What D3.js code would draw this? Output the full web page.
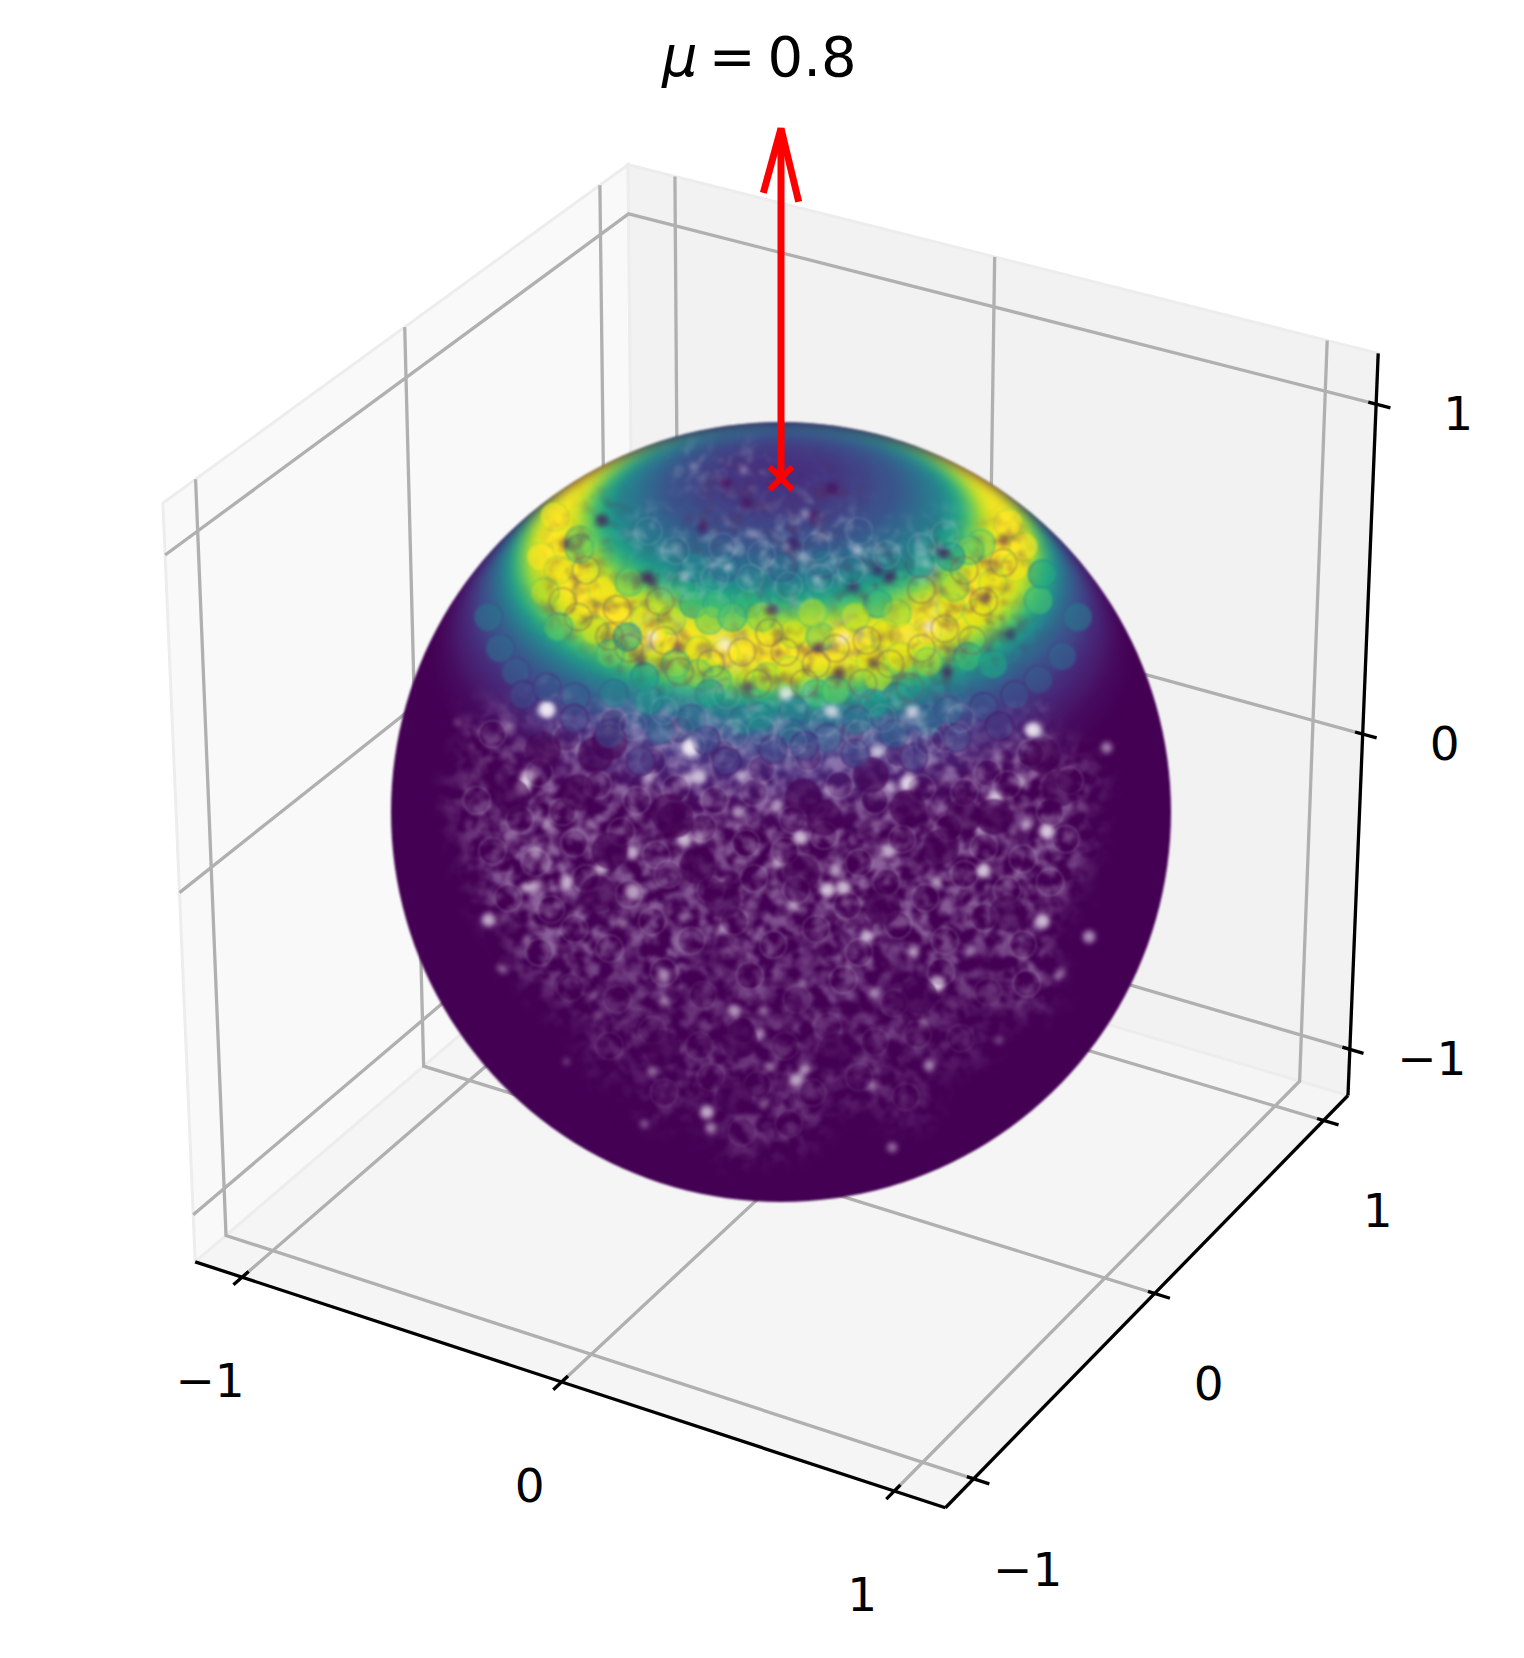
<!DOCTYPE html>
<html lang="en">
<head>
    <meta charset="UTF-8">
    <title>Sphere scatter</title>
    <script src="https://d3js.org/d3.v7.min.js"></script>
    <style>
        body { margin: 0; background: #fff; }
        text { font-family: "DejaVu Sans", sans-serif; fill: #000; }
    </style>
</head>
<body>
    <svg width="1524" height="1658"></svg>
    <script>
        // axes
        const tickValues = [-1, 0, 1];
        const tickLabels = ["−1", "0", "1"];
        const axisLimit = 1.15;
        const muLabel = "0.8";

        // arrow from the top of the sphere, and its barbs
        const arrowShaft = [[0, 0, 1], [0, 0, 2]];
        const arrowBarbs = [[-0.052, 0, 1.807], [0, 0, 2], [0.052, 0, 1.807]];
        const arrowBase = [0, 0, 1];

        // colour (viridis 0..1) of the sphere against polar angle from the +z pole, degrees
        const capAngles = [62, 58, 55, 52, 50, 48, 46, 44, 42, 40, 38, 36, 34, 32, 30, 28, 26, 24, 21, 18, 14, 10, 5];
        const capValues = [0.02, 0.07, 0.12, 0.2, 0.26, 0.34, 0.46, 0.62, 0.82, 0.95, 1, 1, 0.98, 0.88, 0.72, 0.58, 0.48, 0.4, 0.32, 0.25, 0.2, 0.16, 0.14];

        // coloured points in the band: [u, v, viridis value], u,v in sphere radii
        const bandPoints = [
            [-0.58,0.757,1],[-0.615,0.654,1],[-0.571,0.62,0.97],[-0.605,0.564,0.9],[-0.497,0.56,1],[-0.458,0.569,0.98],
            [-0.517,0.697,0.8],[-0.517,0.675,0.78],[-0.389,0.59,0.78],[-0.35,0.496,0.92],[-0.281,0.492,0.88],[-0.33,0.457,1],
            [-0.478,0.466,0.9],[-0.571,0.475,0.75],[-0.438,0.406,0.75],[-0.394,0.449,0.6],[-0.223,0.534,0.65],[-0.164,0.534,0.65],
            [-0.085,0.534,0.65],[-0.183,0.492,0.8],[-0.125,0.5,0.72],[-0.213,0.415,0.95],[-0.144,0.406,1],[-0.213,0.355,0.82],
            [-0.164,0.338,0.78],[-0.036,0.346,0.88],[0.023,0.363,0.95],[0.032,0.457,0.92],[0.101,0.449,0.8],[0.16,0.445,1],
            [0.199,0.423,1],[0.091,0.304,0.7],[0.14,0.312,0.75],[0.248,0.534,0.65],[0.297,0.509,0.85],[0.268,0.457,0.95],
            [0.376,0.466,1],[0.317,0.449,1],[0.435,0.526,0.95],[0.445,0.577,0.85],[0.543,0.586,0.95],[0.601,0.628,0.98],
            [0.621,0.68,1],[0.582,0.74,1],[0.513,0.688,0.8],[0.484,0.671,0.78],[0.503,0.509,0.95],[0.376,0.385,0.85],
            [0.479,0.398,0.68],[0.543,0.38,0.6],[0.307,0.398,0.95],[0.229,0.389,0.95],[0.248,0.346,0.9],[0.66,0.543,0.7],
            [0.67,0.61,0.6],[-0.095,0.235,0.45],[-0.056,0.244,0.5],[0.032,0.261,0.42],[0.238,0.278,0.55],[0.297,0.295,0.55],
            [-0.34,0.286,0.5],[-0.429,0.304,0.42],[-0.35,0.346,0.55],[-0.183,0.304,0.55],[0.194,0.235,0.38],[0.028,0.201,0.35],
            [-0.193,0.184,0.2],[0.376,0.235,0.35],[-0.527,0.295,0.3],[-0.144,0.628,0.38],[-0.223,0.628,0.45],[0.003,0.628,0.35],
            [0.111,0.637,0.38],[0.356,0.637,0.5],[0.435,0.654,0.55],[-0.23,0.24,0.34],[-0.31,0.21,0.32],[0.12,0.19,0.28],[0.29,0.2,0.3],
            [0.43,0.26,0.32],[0.06,0.17,0.22],[-0.44,0.2,0.22],[-0.05,0.5,0.85],[0.08,0.51,0.88],[0.19,0.5,0.9],[-0.27,0.38,0.78],
            [-0.68,0.36,0.3],[-0.72,0.42,0.34],[-0.66,0.3,0.22],[-0.6,0.32,0.26],[0.6,0.3,0.24],[0.66,0.34,0.28],[0.72,0.4,0.32],
            [0.52,0.27,0.24],[0.45,0.19,0.2],[0.34,0.14,0.17],[-0.14,0.13,0.17],[-0.36,0.13,0.17],[-0.53,0.24,0.2],[0.19,0.15,0.2],
            [-0.02,0.16,0.2],[0.56,0.22,0.16],[-0.75,0.5,0.38],[0.76,0.5,0.4]
        ];

        // faint rings of single points across the band and the cap: [u, v, 1 dark | 0 pale]
        const bandRings = [
            [-0.5,0.62,1],[-0.42,0.52,1],[-0.39,0.42,1],[-0.3,0.44,1],[-0.26,0.36,1],[-0.18,0.38,1],[-0.1,0.41,1],[-0.06,0.33,1],[0.01,0.41,1],[0.09,0.38,1],
            [0.14,0.42,1],[0.22,0.44,1],[0.28,0.38,1],[0.36,0.42,1],[0.42,0.47,1],[0.49,0.44,1],[0.52,0.54,1],[0.57,0.64,1],[0.47,0.62,1],[0.36,0.57,1],
            [-0.44,0.45,1],[-0.52,0.5,1],[-0.56,0.54,1],[-0.31,0.54,1],[-0.03,0.46,1],[0.06,0.33,1],[0.21,0.33,1],[0.33,0.32,1],[-0.14,0.3,0],[-0.05,0.21,0],
            [0.03,0.18,0],[0.11,0.23,0],[0.2,0.2,0],[0.26,0.24,0],[-0.3,0.26,0],[-0.23,0.17,0],[-0.12,0.2,0],[0.38,0.18,0],[0.46,0.24,0],[-0.38,0.22,0],
            [-0.25,0.58,0],[-0.17,0.6,0],[-0.08,0.6,0],[0.02,0.58,0],[0.1,0.6,0],[0.18,0.62,0],[0.27,0.66,0],[0.36,0.68,0],[-0.05,0.66,0],[-0.15,0.68,0],
            [-0.27,0.67,0],[-0.34,0.72,0],[0.09,0.68,0],[0.2,0.72,0],[0.42,0.71,0]
        ];

        // sparse spots in the band where the dark purple shows through: [u, v]
        const bandDarkSpots = [
            [-0.345,0.603],[-0.33,0.59],[-0.551,0.688],[-0.458,0.748],[0.185,0.577],[0.248,0.62],[0.523,0.547],[0.572,0.697],
            [-0.026,0.517],[0.096,0.419],[0.238,0.381],[0.425,0.363],[-0.085,0.321],[-0.262,0.423],[0.081,0.757],[0.131,0.83],
            [-0.144,0.842],[0.415,0.663],[0.278,0.603],[0.587,0.457],[-0.09,0.79],[-0.2,0.73],[0.03,0.69],[-0.36,0.39],[0.15,0.36]
        ];

        // pale holes in the cap: [u, v, strength]
        const bandPaleSpots = [
            [-0.6,0.265,1],[0.013,0.304,1],[0.13,0.257,0.9],[0.337,0.257,0.9],[0.641,0.21,0.9],[-0.237,0.167,1],[-0.247,0.603,0.6],
            [-0.134,0.628,0.5],[0.194,0.671,0.6],[0.052,0.654,0.5],[0.091,0.594,0.5],[0.371,0.637,0.5],[-0.144,0.428,0.9],[0.16,0.445,0.8],
            [0.381,0.475,0.8],[0.013,0.68,0.4],[-0.223,0.885,0.4],[-0.095,0.876,0.4],[0.062,0.765,0.5],[-0.075,0.714,0.4],[-0.33,0.45,0.8]
        ];

        // light gaps between the purple points lower down: [u, v, strength]
        const bodyGaps = [
            [-0.6,0.26,1],[-0.65,0.09,0.9],[-0.66,0.064,0.9],[-0.695,0.22,0.4],[-0.83,0.23,0.25],[-0.52,0.16,0.5],[-0.34,0.087,0.7],[-0.23,0.16,1],
            [-0.21,0.09,0.9],[-0.24,0.08,0.7],[-0.1,0.09,0.6],[-0.01,0.018,0.7],[-0.11,0,0.7],[-0.63,-0.105,0.8],[-0.6,-0.14,0.5],[-0.46,-0.144,0.8],
            [-0.38,-0.105,0.7],[-0.49,-0.03,0.5],[-0.6,-0.03,0.5],[-0.8,-0.03,0.25],[-0.38,-0.205,1],[-0.55,-0.18,0.8],[-0.63,-0.19,0.7],[-0.65,-0.195,0.6],
            [-0.75,-0.277,0.8],[-0.25,-0.07,0.9],[-0.21,-0.067,0.7],[-0.01,-0.13,0.7],[-0.25,-0.27,0.5],[-0.15,-0.3,0.5],[-0.405,-0.285,0.5],[-0.33,-0.19,0.4],
            [-0.72,-0.4,0.3],[-0.3,-0.41,0.4],[-0.65,-0.33,0.35],[0.65,0.21,0.9],[0.835,0.165,0.6],[0.55,0.035,0.9],[0.68,-0.05,0.9],[0.63,-0.033,0.6],
            [0.595,-0.05,0.4],[0.325,0.074,1],[0.28,0.064,0.7],[0.245,0.155,0.8],[0.375,0.133,0.5],[0.125,0.056,0.5],[0.52,-0.15,0.9],[0.51,-0.046,0.5],
            [0.275,-0.1,0.8],[0.16,-0.195,0.9],[0.12,-0.2,0.9],[0.14,-0.15,0.7],[0.05,-0.067,0.8],[0.67,-0.28,0.9],[0.79,-0.32,0.7],[0.34,-0.36,0.6],
            [0.22,-0.32,0.7],[0.03,-0.24,0.7],[0.485,-0.355,0.4],[0.4,-0.18,0.5],[0.62,0.077,0.5],[0.56,0.14,0.4],[0.72,-0.41,0.3],[0.4,-0.44,1],
            [-0.3,-0.42,0.7],[-0.3,-0.485,0.5],[-0.12,-0.51,0.7],[-0.045,-0.51,0.5],[0.055,-0.44,0.5],[0.24,-0.465,0.5],[-0.055,-0.57,0.6],[0.04,-0.687,0.8],
            [0.06,-0.66,0.6],[-0.03,-0.655,0.4],[-0.19,-0.77,0.8],[-0.18,-0.81,0.6],[-0.33,-0.665,0.5],[-0.35,-0.8,0.4],[-0.47,-0.52,0.3],[-0.48,-0.47,0.3],
            [-0.71,-0.405,0.3],[0.38,-0.65,0.6],[0.235,-0.7,0.5],[0.285,-0.86,0.5],[0.71,-0.42,0.4],[0.56,-0.585,0.3],[0.365,-0.54,0.4],[-0.045,-0.75,0.4],
            [-0.55,-0.64,0.25]
        ];

        // rings left by single faint points on the lower sphere: [u, v]
        const bodyRings = [
            [-0.74,0.2],[-0.62,0.1],[-0.55,0.19],[-0.43,0.23],[-0.33,0.13],[-0.26,0.21],[-0.15,0.15],[-0.05,0.11],[0.07,0.14],[0.18,0.2],[0.3,0.15],[0.42,0.19],[0.53,0.1],[0.64,0.15],[0.74,0.08],
            [-0.78,0.03],[-0.67,-0.02],[-0.56,0],[-0.47,0.07],[-0.37,0.03],[-0.27,0.06],[-0.17,0.03],[-0.07,0.05],[0.03,-0.02],[0.15,0.07],[0.24,0.03],[0.36,0.06],[0.47,0.05],[0.58,0.07],[0.69,0],
            [-0.74,-0.1],[-0.63,-0.13],[-0.53,-0.08],[-0.41,-0.05],[-0.32,-0.11],[-0.2,-0.04],[-0.09,-0.08],[0.01,-0.1],[0.11,-0.06],[0.2,-0.13],[0.31,-0.07],[0.43,-0.04],[0.52,-0.09],[0.62,-0.12],[0.73,-0.07],
            [-0.7,-0.22],[-0.59,-0.25],[-0.5,-0.17],[-0.39,-0.21],[-0.29,-0.16],[-0.18,-0.2],[-0.07,-0.17],[0.04,-0.2],[0.17,-0.24],[0.27,-0.18],[0.37,-0.22],[0.47,-0.16],[0.58,-0.2],[0.69,-0.18],
            [-0.62,-0.36],[-0.53,-0.3],[-0.44,-0.35],[-0.33,-0.28],[-0.23,-0.33],[-0.12,-0.28],[-0.02,-0.34],[0.09,-0.3],[0.2,-0.36],[0.3,-0.29],[0.42,-0.33],[0.52,-0.27],[0.62,-0.34],
            [-0.54,-0.45],[-0.42,-0.48],[-0.3,-0.41],[-0.2,-0.47],[-0.08,-0.42],[0.04,-0.48],[0.16,-0.43],[0.29,-0.49],[0.41,-0.41],[0.53,-0.46],[0.63,-0.44],
            [-0.44,-0.6],[-0.33,-0.56],[-0.21,-0.6],[-0.1,-0.56],[0.01,-0.6],[0.12,-0.55],[0.24,-0.59],[0.35,-0.57],[0.46,-0.58],
            [-0.3,-0.72],[-0.18,-0.68],[-0.06,-0.7],[0.08,-0.72],[0.2,-0.68],[0.32,-0.73],[-0.1,-0.82],[0.02,-0.8]
        ];

        // darker clusters on the lower sphere: [u, v]
        const bodyClusters = [
            [-0.215,-0.14],[-0.29,0],[-0.69,0.04],[-0.44,0.18],[-0.475,0.147],[-0.47,-0.21],[-0.61,0.16],[-0.52,0.05],[-0.15,-0.225],[-0.44,-0.1],
            [0.11,-0.015],[0.325,0.01],[0.41,-0.09],[0.057,0.04],[0.053,-0.157],[0.26,-0.243],[0.58,-0.26],[0.23,0.095],[0.67,0.146],[0.715,0.06],
            [0.545,-0.012],[0.467,-0.012],[-0.107,-0.585],[0.354,-0.47],[0.14,-0.615],[-0.305,-0.605],[-0.12,-0.73],[-0.27,-0.02]
        ];

        const svg = d3.select("svg");

        // matplotlib style 3D view: elev 30, azim -60, equal box
        const boxHalf = 0.528;
        const cameraDist = 10;
        const elev = 30 * Math.PI / 180;
        const azim = -60 * Math.PI / 180;
        const right = [-Math.sin(azim), Math.cos(azim), 0];
        const up = [-Math.sin(elev) * Math.cos(azim), -Math.sin(elev) * Math.sin(azim), Math.cos(elev)];
        const toEye = [Math.cos(elev) * Math.cos(azim), Math.cos(elev) * Math.sin(azim), Math.sin(elev)];
        const dot = (a, b) => a[0] * b[0] + a[1] * b[1] + a[2] * b[2];

        const boxScale = d3.scaleLinear().domain([-axisLimit, axisLimit]).range([-boxHalf, boxHalf]);
        const viewX = d3.scaleLinear().domain([-1, 1]).range([781 - 820, 781 + 820]);
        const viewY = d3.scaleLinear().domain([-1, 1]).range([812 + 820, 812 - 820]);

        function project(p) {
            const q = p.map(boxScale);
            const f = cameraDist / (cameraDist - dot(q, toEye));
            return [viewX(dot(q, right) * f), viewY(dot(q, up) * f)];
        }
        const line3d = d3.line().x(d => project(d)[0]).y(d => project(d)[1]);

        const L = axisLimit;

        // panes
        const panes = [
            { fill: "#f9f9f9", pts: [[-L,-L,-L],[-L,L,-L],[-L,L,L],[-L,-L,L]] },
            { fill: "#f2f2f2", pts: [[-L,L,-L],[L,L,-L],[L,L,L],[-L,L,L]] },
            { fill: "#f5f5f5", pts: [[-L,-L,-L],[L,-L,-L],[L,L,-L],[-L,L,-L]] }
        ];
        svg.append("g").selectAll("path").data(panes).join("path")
            .attr("d", d => line3d(d.pts) + "Z")
            .attr("fill", d => d.fill)
            .attr("stroke", "#ededed")
            .attr("stroke-width", 3);

        // grid
        const gridG = svg.append("g").attr("fill", "none").attr("stroke", "#b0b0b0").attr("stroke-width", 3.3);
        tickValues.forEach(t => {
            gridG.append("path").attr("d", line3d([[t,-L,-L],[t,L,-L],[t,L,L]]));
            gridG.append("path").attr("d", line3d([[L,t,-L],[-L,t,-L],[-L,t,L]]));
            gridG.append("path").attr("d", line3d([[-L,-L,t],[-L,L,t],[L,L,t]]));
        });

        // axis lines and ticks
        const axisG = svg.append("g").attr("fill", "none").attr("stroke", "#000").attr("stroke-width", 3.3);
        axisG.append("path").attr("d", line3d([[-L,-L,-L],[L,-L,-L]]));
        axisG.append("path").attr("d", line3d([[L,-L,-L],[L,L,-L]]));
        axisG.append("path").attr("d", line3d([[L,L,-L],[L,L,L]]));

        const tickG = svg.append("g");
        const labelG = svg.append("g").attr("font-size", 47).attr("text-anchor", "middle");
        function addLabel(p, dx, dy, s) {
            const c = project(p);
            labelG.append("text").attr("x", c[0] + dx).attr("y", c[1] + dy).attr("dy", "0.36em").text(s);
        }
        tickValues.forEach((t, i) => {
            tickG.append("path").attr("d", line3d([[t,-L-0.042,-L],[t,-L+0.032,-L]])).attr("stroke", "#000").attr("stroke-width", 3.3);
            tickG.append("path").attr("d", line3d([[L+0.046,t,-L],[L-0.02,t,-L]])).attr("stroke", "#000").attr("stroke-width", 3.3);
            tickG.append("path").attr("d", line3d([[L+0.042,L,t],[L-0.023,L,t]])).attr("stroke", "#000").attr("stroke-width", 3.3);
            addLabel([t,-L,-L], -32, 103, tickLabels[i]);
            addLabel([L,t,-L], 54, 90, tickLabels[i]);
            addLabel([L,L,t], 82, 9, tickLabels[i]);
        });

        // title
        const title = svg.append("text").attr("x", 662).attr("y", 76).attr("font-size", 56);
        title.append("tspan").attr("font-style", "italic").text("μ");
        title.append("tspan").attr("dx", 11).text("=");
        title.append("tspan").attr("dx", 12).text(muLabel);

        // sphere filters
        const defs = svg.append("defs");
        const newFilter = id => defs.append("filter").attr("id", id)
            .attr("x", "-10%").attr("y", "-10%").attr("width", "120%").attr("height", "120%")
            .attr("color-interpolation-filters", "sRGB");
        const soft = (id, s) => newFilter(id).append("feGaussianBlur").attr("stdDeviation", s);
        soft("blurCap", 7); soft("blurEdge", 0.9); soft("blurPts", 0.7); soft("blurGap", 2.6);

        // the listed spots set where the points thin out, the noise only breaks that into a lace
        function lace(id, rgb, seed, freq, blur, gain, cut) {
            const f = newFilter(id);
            f.append("feGaussianBlur").attr("in", "SourceGraphic").attr("stdDeviation", blur).attr("result", "mask");
            f.append("feTurbulence").attr("type", "fractalNoise").attr("baseFrequency", freq)
                .attr("numOctaves", 3).attr("seed", seed).attr("result", "noise");
            f.append("feColorMatrix").attr("in", "noise").attr("type", "matrix")
                .attr("values", `0 0 0 0 ${rgb[0]} 0 0 0 0 ${rgb[1]} 0 0 0 0 ${rgb[2]} ${gain} 0 0 0 ${cut}`)
                .attr("result", "tex");
            f.append("feComposite").attr("in", "tex").attr("in2", "mask").attr("operator", "in").attr("result", "out");
            f.append("feGaussianBlur").attr("in", "out").attr("stdDeviation", 1.2);
        }
        lace("lacePale", [0.8, 0.72, 0.86], 7, 0.07, 16, 3, -1.12);
        lace("laceCap", [0.78, 0.84, 0.88], 11, 0.07, 12, 3, -1.4);
        lace("laceDark", [0.36, 0.16, 0.34], 23, 0.07, 12, 3, -1.35);

        const sphereR = 390;
        const sphereC = project([0, 0, 0]);
        const uScale = d3.scaleLinear().domain([-1, 1]).range([sphereC[0] - sphereR, sphereC[0] + sphereR]);
        const vScale = d3.scaleLinear().domain([-1, 1]).range([sphereC[1] + sphereR, sphereC[1] - sphereR]);

        const globe = d3.geoOrthographic().scale(sphereR).translate(sphereC).rotate([0, -30]).precision(0.5);
        const geoPath = d3.geoPath(globe);
        const circle = d3.geoCircle().center([0, 90]).precision(2);

        defs.append("clipPath").attr("id", "disc").append("path").attr("d", geoPath({ type: "Sphere" }));

        const sphereG = svg.append("g").attr("filter", "url(#blurEdge)");
        sphereG.append("path").attr("d", geoPath({ type: "Sphere" })).attr("fill", "#440154");
        const inner = sphereG.append("g").attr("clip-path", "url(#disc)");

        // colour cap
        const capG = inner.append("g").attr("filter", "url(#blurCap)");
        capG.selectAll("path").data(d3.zip(capAngles, capValues)).join("path")
            .attr("d", d => geoPath(circle.radius(d[0])()))
            .attr("fill", d => d3.interpolateViridis(d[1]));

        // lace on the lower sphere
        inner.append("g").attr("filter", "url(#lacePale)").attr("opacity", 0.55)
            .selectAll("circle").data(bodyRings).join("circle")
            .attr("cx", d => uScale(d[0])).attr("cy", d => vScale(d[1]))
            .attr("r", 26)
            .attr("fill", "#fff").attr("opacity", d => d[1] > -0.45 ? 1 : 0.6);

        // light gaps
        inner.append("g").attr("filter", "url(#blurGap)").selectAll("circle").data(bodyGaps).join("circle")
            .attr("cx", d => uScale(d[0])).attr("cy", d => vScale(d[1]))
            .attr("r", d => 2 + 6 * d[2])
            .attr("fill", "#f1e9f5").attr("opacity", d => 0.1 + 0.75 * d[2]);

        // rings
        inner.append("g").selectAll("circle").data(bodyRings).join("circle")
            .attr("cx", d => uScale(d[0])).attr("cy", d => vScale(d[1]))
            .attr("r", 13.5)
            .attr("fill", "#440154").attr("fill-opacity", 0.22)
            .attr("stroke", "#d3c3de").attr("stroke-opacity", d => d[1] > -0.45 ? 0.22 : 0.12).attr("stroke-width", 1.6);

        // darker clusters
        inner.append("g").attr("filter", "url(#blurPts)").selectAll("circle").data(bodyClusters).join("circle")
            .attr("cx", d => uScale(d[0])).attr("cy", d => vScale(d[1]))
            .attr("r", 18)
            .attr("fill", "#440154").attr("opacity", 0.6);

        // band points
        inner.append("g").attr("filter", "url(#blurPts)").selectAll("circle").data(bandPoints).join("circle")
            .attr("cx", d => uScale(d[0])).attr("cy", d => vScale(d[1]))
            .attr("r", 14)
            .attr("fill", d => d3.interpolateViridis(d[2])).attr("fill-opacity", 0.6)
            .attr("stroke", d => d3.interpolateViridis(Math.max(0, d[2] - 0.12))).attr("stroke-opacity", 0.5).attr("stroke-width", 2);

        // lace over the band and inside the cap
        inner.append("g").attr("filter", "url(#laceDark)").attr("opacity", 0.45)
            .selectAll("circle").data(bandRings.filter(d => d[2]).concat(bandDarkSpots)).join("circle")
            .attr("cx", d => uScale(d[0])).attr("cy", d => vScale(d[1]))
            .attr("r", 24).attr("fill", "#fff");
        inner.append("g").attr("filter", "url(#laceCap)").attr("opacity", 0.4)
            .selectAll("circle").data(bandRings.filter(d => !d[2]).concat(bandPaleSpots)).join("circle")
            .attr("cx", d => uScale(d[0])).attr("cy", d => vScale(d[1]))
            .attr("r", 24).attr("fill", "#fff");

        // dark and pale spots in the band
        inner.append("g").attr("filter", "url(#blurGap)").selectAll("circle").data(bandDarkSpots).join("circle")
            .attr("cx", d => uScale(d[0])).attr("cy", d => vScale(d[1]))
            .attr("r", 6)
            .attr("fill", "#440154").attr("opacity", 0.55);
        inner.append("g").attr("filter", "url(#blurGap)").selectAll("circle").data(bandPaleSpots).join("circle")
            .attr("cx", d => uScale(d[0])).attr("cy", d => vScale(d[1]))
            .attr("r", d => 2 + 5 * d[2])
            .attr("fill", "#f4eff7").attr("opacity", d => 0.1 + 0.7 * d[2]);
        inner.append("g").attr("filter", "url(#blurPts)").selectAll("circle").data(bandRings).join("circle")
            .attr("cx", d => uScale(d[0])).attr("cy", d => vScale(d[1]))
            .attr("r", 13.5)
            .attr("fill", "none")
            .attr("stroke", d => d[2] ? "#7a5c5a" : "#c8d8dc").attr("stroke-opacity", d => d[2] ? 0.4 : 0.14).attr("stroke-width", 2);

        // arrow
        const arrowG = svg.append("g").attr("fill", "none").attr("stroke", "#ff0000").attr("stroke-width", 7);
        arrowG.append("path").attr("d", line3d(arrowShaft));
        arrowG.append("path").attr("d", line3d(arrowBarbs)).attr("stroke-linejoin", "miter");
        const base = project(arrowBase);
        arrowG.append("path")
            .attr("d", d3.symbol(d3.symbolX, 340)())
            .attr("transform", `translate(${base[0]},${base[1]})`)
            .attr("stroke-width", 6);
    </script>
</body>
</html>
